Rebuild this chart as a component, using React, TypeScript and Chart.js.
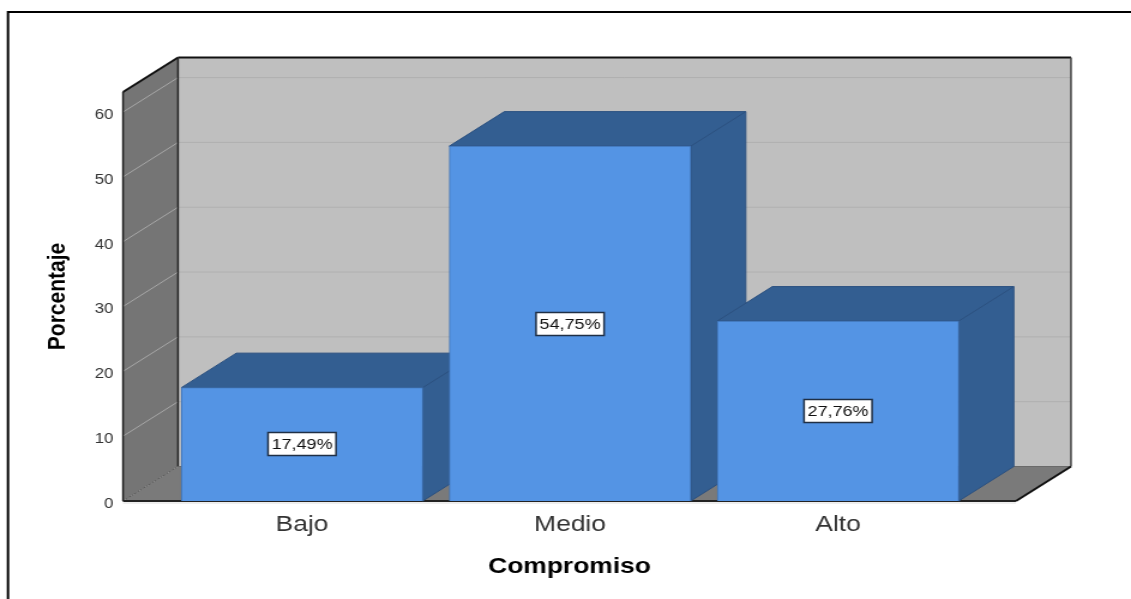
import React, { useEffect, useRef } from "react";
import { Chart, registerables } from "chart.js";

Chart.register(...registerables);

const categories = ["Bajo", "Medio", "Alto"];
const percentages = [17.49, 54.75, 27.76];
const yTickValues = [0, 10, 20, 30, 40, 50, 60];
const yAxisTitle = "Porcentaje";
const xAxisTitle = "Compromiso";

// The drawing is laid out on a narrower canvas and widened by CSS, as in the reference.
const LOGICAL_WIDTH = 943;
const K = 1131 / LOGICAL_WIDTH;
const DEPTH_X = 55 / K;
const DEPTH_Y = 34.5;
const FONT = "'Liberation Sans', Arial, sans-serif";

const wall3dPlugin = {
  id: "wall3d",
  beforeDraw(chart: any) {
    const { ctx } = chart;
    const xs = chart.scales.x;
    const ys = chart.scales.y;
    const l = xs.left;
    const r = xs.right;
    const b = ys.bottom;
    const t = ys.top;
    const poly = (pts: number[][], fill?: string, stroke?: string, w = 1) => {
      ctx.beginPath();
      pts.forEach((p, i) => (i ? ctx.lineTo(p[0], p[1]) : ctx.moveTo(p[0], p[1])));
      if (fill) {
        ctx.closePath();
        ctx.fillStyle = fill;
        ctx.fill();
      }
      if (stroke) {
        ctx.strokeStyle = stroke;
        ctx.lineWidth = w;
        ctx.stroke();
      }
    };
    ctx.save();
    // page frame
    poly([[8 / K, 599], [8 / K, 12], [LOGICAL_WIDTH, 12]], undefined, "#000000", 2);
    // back wall, side wall, floor
    poly([[l + DEPTH_X, t - DEPTH_Y], [r + DEPTH_X, t - DEPTH_Y], [r + DEPTH_X, b - DEPTH_Y], [l + DEPTH_X, b - DEPTH_Y]], "#bfbfbf");
    poly([[l, t], [l + DEPTH_X, t - DEPTH_Y], [l + DEPTH_X, b - DEPTH_Y], [l, b]], "#757575");
    poly([[l, b], [l + DEPTH_X, b - DEPTH_Y], [r + DEPTH_X, b - DEPTH_Y], [r, b]], "#7a7a7a");
    // grid lines on walls
    yTickValues.slice(1).forEach((v) => {
      const y = ys.getPixelForValue(v);
      poly([[l, y], [l + DEPTH_X, y - DEPTH_Y]], undefined, "#a8a8a8", 1);
      poly([[l + DEPTH_X, y - DEPTH_Y], [r + DEPTH_X, y - DEPTH_Y]], undefined, "#b0b0b0", 1);
    });
    poly([[l + DEPTH_X, t - DEPTH_Y], [r + DEPTH_X, t - DEPTH_Y]], undefined, "#111111", 2);
    poly([[l, t], [l + DEPTH_X, t - DEPTH_Y]], undefined, "#111111", 2);
    poly([[l, t], [l, b]], undefined, "#222222", 1.5);
    poly([[l + DEPTH_X, t - DEPTH_Y], [l + DEPTH_X, b - DEPTH_Y]], undefined, "#222222", 1.5);
    poly([[r + DEPTH_X, t - DEPTH_Y], [r + DEPTH_X, b - DEPTH_Y]], undefined, "#444444", 1.5);
    poly([[l + DEPTH_X, b - DEPTH_Y], [r + DEPTH_X, b - DEPTH_Y]], undefined, "#6a6a6a", 1);
    ctx.setLineDash([2, 1]);
    poly([[l, b], [l + DEPTH_X, b - DEPTH_Y]], undefined, "#555555", 1);
    ctx.setLineDash([]);
    poly([[l, b + 2], [r, b + 2]], undefined, "#dddddd", 1);
    poly([[l, b], [r, b]], undefined, "#222222", 2);
    poly([[r, b], [r + DEPTH_X, b - DEPTH_Y]], undefined, "#111111", 2);
    ctx.restore();
  },
  beforeDatasetsDraw(chart: any) {
    const { ctx } = chart;
    const meta = chart.getDatasetMeta(0);
    ctx.save();
    meta.data.forEach((bar: any) => {
      const hw = bar.width / 2;
      const left = bar.x - hw;
      const right = bar.x + hw;
      const top = bar.y;
      const bottom = bar.base;
      ctx.fillStyle = "#335e91";
      ctx.strokeStyle = "#2c5180";
      ctx.lineWidth = 1;
      ctx.beginPath();
      ctx.moveTo(left, top);
      ctx.lineTo(left + DEPTH_X, top - DEPTH_Y);
      ctx.lineTo(right + DEPTH_X, top - DEPTH_Y);
      ctx.lineTo(right + DEPTH_X, bottom - DEPTH_Y);
      ctx.lineTo(right, bottom);
      ctx.lineTo(right, top);
      ctx.closePath();
      ctx.fill();
      ctx.stroke();
      ctx.beginPath();
      ctx.moveTo(right, top);
      ctx.lineTo(right + DEPTH_X, top - DEPTH_Y);
      ctx.stroke();
    });
    ctx.restore();
  },
  afterDatasetsDraw(chart: any) {
    const { ctx } = chart;
    const meta = chart.getDatasetMeta(0);
    ctx.save();
    ctx.font = `15px ${FONT}`;
    ctx.textAlign = "center";
    ctx.textBaseline = "middle";
    meta.data.forEach((bar: any, i: number) => {
      const text = percentages[i].toFixed(2).replace(".", ",") + "%";
      const cy = Math.round((bar.y + bar.base) / 2);
      const boxW = 68 / K;
      const boxH = 23;
      const bx = bar.x - boxW / 2;
      const by = cy - boxH / 2;
      ctx.fillStyle = "#ffffff";
      ctx.strokeStyle = "#1f2f45";
      ctx.lineWidth = 1.5;
      ctx.fillRect(bx, by, boxW, boxH);
      ctx.strokeRect(bx, by, boxW, boxH);
      ctx.fillStyle = "#111111";
      ctx.fillText(text, bar.x, cy + 0.5);
    });
    ctx.restore();
  },
};

export default function App() {
  const ref = useRef<HTMLCanvasElement | null>(null);

  useEffect(() => {
    if (!ref.current) return;
    const chart = new Chart(ref.current, {
      type: "bar",
      data: {
        datasets: [
          {
            data: percentages.map((v, i) => ({ x: i + 1, y: v })),
            backgroundColor: "#5494e4",
            borderColor: "#3f73b5",
            borderWidth: 1,
            barThickness: 241.5 / K,
          },
        ],
      },
      plugins: [wall3dPlugin],
      options: {
        animation: false,
        responsive: false,
        events: [],
        layout: { padding: { left: 0, right: 115 / K, top: 92, bottom: 0 } },
        plugins: { legend: { display: false }, tooltip: { enabled: false }, title: { display: false } },
        scales: {
          x: {
            type: "linear",
            offset: false,
            min: 0.332,
            max: 3.664,
            grid: { display: false, offset: false },
            border: { display: false },
            afterBuildTicks(scale: any) {
              scale.ticks = categories.map((_, i) => ({ value: i + 1 }));
            },
            afterFit(scale: any) {
              scale.height = 98;
            },
            ticks: {
              autoSkip: false,
              maxRotation: 0,
              padding: 3,
              color: "#333333",
              font: { family: FONT, size: 22 },
              callback: (v: any) => categories[Number(v) - 1],
            },
            title: {
              display: true,
              text: xAxisTitle,
              color: "#000000",
              font: { family: FONT, size: 22, weight: "bold" },
              padding: { top: 0, bottom: 19 },
            },
          },
          y: {
            type: "linear",
            min: 0,
            max: 63.1,
            grid: { display: false },
            border: { display: false },
            afterBuildTicks(scale: any) {
              scale.ticks = yTickValues.map((value) => ({ value }));
            },
            afterFit(scale: any) {
              scale.width = 123 / K;
            },
            ticks: {
              padding: 0,
              labelOffset: 3,
              color: "#333333",
              font: { family: FONT, size: 14 },
            },
            title: {
              display: true,
              text: yAxisTitle,
              color: "#000000",
              font: { family: FONT, size: 21, weight: "bold" },
              padding: { top: 36, bottom: 0 },
            },
          },
        },
      },
    } as any);
    return () => chart.destroy();
  }, []);

  return (
    <div style={{ position: "fixed", left: 0, top: 0, width: 1131, height: 599, overflow: "hidden", background: "#ffffff" }}>
      <canvas
        ref={ref}
        width={LOGICAL_WIDTH}
        height={599}
        style={{ display: "block", transformOrigin: "0 0", transform: `scaleX(${K})` }}
      />
    </div>
  );
}
